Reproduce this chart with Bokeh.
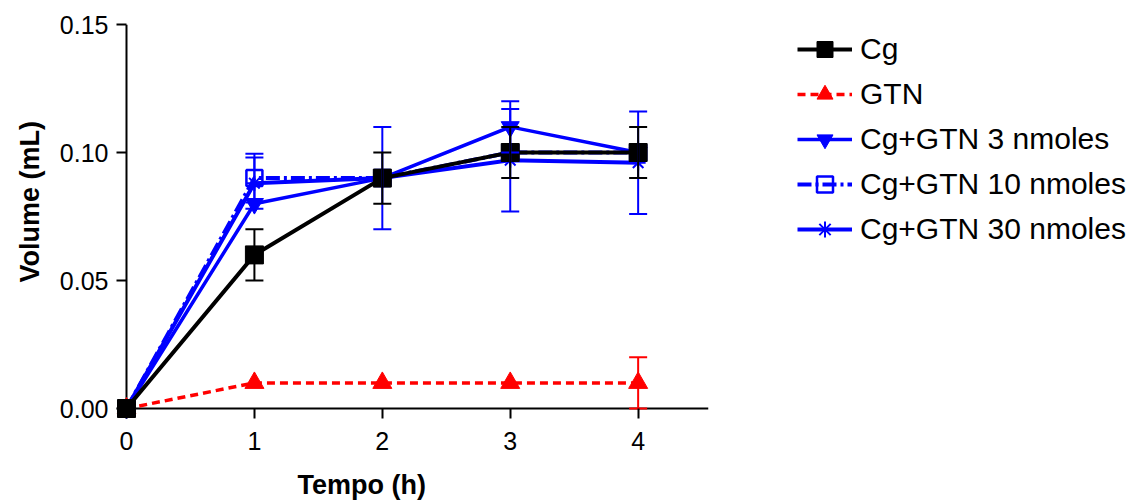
from bokeh.embed import file_html
from bokeh.models import (ColumnDataSource, FixedTicker, Legend, LegendItem,
                          PrintfTickFormatter, Range1d, Span, TeeHead, Title, Whisker)
from bokeh.plotting import figure
from bokeh.resources import INLINE

# Time points (h)
tempo = [0, 1, 2, 3, 4]

# Mean volume (mL) and error for each group
cg = [0.0, 0.06, 0.09, 0.10, 0.10]
cg_err = [0.0, 0.01, 0.01, 0.01, 0.01]

gtn = [0.0, 0.01, 0.01, 0.01, 0.01]
gtn_err = [0.0, 0.0, 0.0, 0.0, 0.01]

cg_gtn3 = [0.0, 0.08, 0.09, 0.11, 0.10]
cg_gtn3_err = [0.0, 0.0, 0.02, 0.01, 0.0]

cg_gtn10 = [0.0, 0.09, 0.09, 0.10, 0.10]
cg_gtn10_err = [0.0, 0.0095, 0.0, 0.0, 0.0]

cg_gtn30 = [0.0, 0.088, 0.09, 0.097, 0.096]
cg_gtn30_err = [0.0, 0.01, 0.0, 0.02, 0.02]

series_labels = ["Cg", "GTN", "Cg+GTN 3 nmoles", "Cg+GTN 10 nmoles", "Cg+GTN 30 nmoles"]
y_ticks = [0.0, 0.05, 0.10, 0.15]

FONT = "Liberation Sans"
BLUE = "#0000ff"
RED = "#ff0000"
BLACK = "#000000"

# The frame reaches 10 px past the origin so the t=0 markers are drawn whole;
# the axis lines are drawn at x=0 / y=0 and the ticks point into that margin.
p = figure(
    frame_width=592, frame_height=394,
    x_range=Range1d(-10 / 128, 4.55), y_range=Range1d(-10 / 2560, 0.15),
    min_border_left=116, min_border_right=434, min_border_top=24, min_border_bottom=82,
    output_backend="svg", toolbar_location=None,
)
p.outline_line_color = None
p.xgrid.visible = False
p.ygrid.visible = False
p.background_fill_color = "white"
p.border_fill_color = "white"

for ax in (p.xaxis[0], p.yaxis[0]):
    ax.axis_line_color = None
    ax.major_tick_line_width = 2
    ax.major_tick_line_color = BLACK
    ax.major_tick_in = 10
    ax.major_tick_out = 0
    ax.minor_tick_line_color = None
    ax.major_label_text_font = FONT
    ax.major_label_text_font_size = "25px"
    ax.major_label_text_color = BLACK

p.xaxis[0].ticker = FixedTicker(ticks=tempo)
p.xaxis[0].major_label_standoff = 13
p.yaxis[0].ticker = FixedTicker(ticks=y_ticks)
p.yaxis[0].formatter = PrintfTickFormatter(format="%.2f")
p.yaxis[0].major_label_standoff = 8

# Axis lines through the origin
p.add_layout(Span(location=0, dimension="height", line_color=BLACK, line_width=2,
                  level="underlay"))
p.add_layout(Span(location=0, dimension="width", line_color=BLACK, line_width=2,
                  level="underlay"))


def error_bars(ys, errs, color, width):
    xs = [t for t, e in zip(tempo, errs) if e > 0]
    up = [y + e for y, e in zip(ys, errs) if e > 0]
    lo = [max(y - e, 0.0) for y, e in zip(ys, errs) if e > 0]
    src = ColumnDataSource(dict(x=xs, upper=up, lower=lo))
    w = Whisker(
        source=src, base="x", upper="upper", lower="lower", level="glyph",
        line_color=color, line_width=width,
        upper_head=TeeHead(size=18, line_color=color, line_width=width),
        lower_head=TeeHead(size=18, line_color=color, line_width=width),
    )
    p.add_layout(w)


# GTN alone
gtn_line = p.line(tempo, gtn, line_color=RED, line_width=3.5, line_dash="8 5")
gtn_mark = p.scatter(tempo, gtn, marker="triangle", size=19, fill_color=RED, line_color=RED)
error_bars(gtn, gtn_err, RED, 2)

# Cg+GTN 30 nmoles
g30_line = p.line(tempo, cg_gtn30, line_color=BLUE, line_width=4)
g30_mark = p.scatter(tempo, cg_gtn30, marker="asterisk", size=15, line_color=BLUE, line_width=2)
error_bars(cg_gtn30, cg_gtn30_err, BLUE, 2)

# Cg+GTN 10 nmoles
g10_line = p.line(tempo, cg_gtn10, line_color=BLUE, line_width=4, line_dash="14 4 3 4")
g10_mark = p.scatter(tempo, cg_gtn10, marker="square", size=16, fill_color=None,
                     line_color=BLUE, line_width=2.5)
error_bars(cg_gtn10, cg_gtn10_err, BLUE, 2)

# Cg+GTN 3 nmoles
g3_line = p.line(tempo, cg_gtn3, line_color=BLUE, line_width=3.5)
g3_mark = p.scatter(tempo, cg_gtn3, marker="inverted_triangle", size=18, fill_color=BLUE,
                    line_color=BLUE)
error_bars(cg_gtn3, cg_gtn3_err, BLUE, 2)

# Cg alone
cg_line = p.line(tempo, cg, line_color=BLACK, line_width=4)
cg_mark = p.scatter(tempo, cg, marker="square", size=18, fill_color=BLACK, line_color=BLACK)
error_bars(cg, cg_err, BLACK, 2)

legend = Legend(
    items=[
        LegendItem(label=series_labels[0], renderers=[cg_line, cg_mark]),
        LegendItem(label=series_labels[1], renderers=[gtn_line, gtn_mark]),
        LegendItem(label=series_labels[2], renderers=[g3_line, g3_mark]),
        LegendItem(label=series_labels[3], renderers=[g10_line, g10_mark]),
        LegendItem(label=series_labels[4], renderers=[g30_line, g30_mark]),
    ],
    location=(89, 169),
    label_text_font=FONT, label_text_font_size="30px", label_text_color=BLACK,
    glyph_width=55, glyph_height=40, label_height=40, spacing=5,
    padding=0, margin=0, label_standoff=8,
    border_line_color=None, background_fill_alpha=0,
)
p.add_layout(legend, "right")

# Axis titles
p.add_layout(Title(text="Tempo (h)", align="left", offset=181, text_font=FONT,
                   text_font_style="bold", text_font_size="27px", text_color=BLACK,
                   standoff=30), "below")
p.add_layout(Title(text="Volume (mL)", align="left", offset=136, text_font=FONT,
                   text_font_style="bold", text_font_size="27px", text_color=BLACK,
                   standoff=24), "left")

open("out.html", "w").write(file_html(p, INLINE))
